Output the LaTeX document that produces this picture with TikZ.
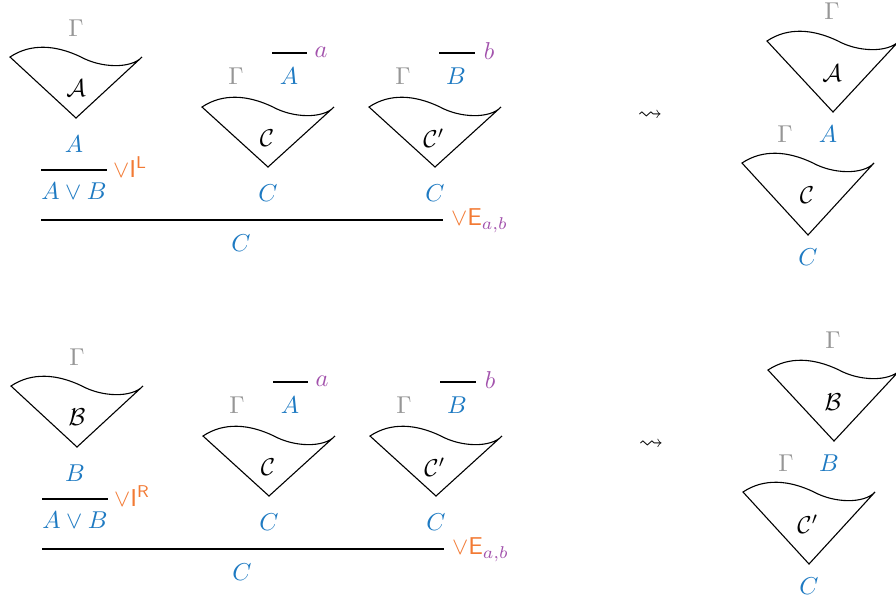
\documentclass[tikz,border=0pt]{standalone}
\usepackage{amsmath,amssymb}
\definecolor{cblue}{RGB}{30,122,194}
\definecolor{corange}{RGB}{242,122,52}
\definecolor{cpurple}{RGB}{162,82,172}
\definecolor{cgray}{RGB}{150,150,150}
\tikzset{
  lbl/.style={inner sep=0pt, outer sep=0pt},
  gam/.style={lbl, text=cgray},
  frm/.style={lbl, text=cblue},
  rul/.style={lbl, text=corange, anchor=west},
  hyp/.style={lbl, text=cpurple},
  ruleline/.style={line width=0.5pt},
  pics/deriv/.style={code={
    \draw[line width=0.45pt, line join=miter]
      (-66,0) .. controls (-45,-14) and (-20,-12) .. (5,0)
      .. controls (25,11) and (55,12) .. (66,0) -- (0,#1) -- cycle;
  }}
}
\newcommand\halfblock[5]{%
  % left derivation of the premise
  \node[gam] (#5g1) at (76,28) {$\Gamma$};
  \pic at (76,57) {deriv=61};
  \node[lbl] (#5d1) at (76,88) {$#1$};
  \node[frm] (#5p1) at (74,144) {$#2$};
  \coordinate (#5f1l) at (41,170);
  \coordinate (#5f1r) at (107,170);
  \draw[ruleline] (#5f1l) -- (#5f1r);
  \node[rul] (#5r1) at (113,167) {$\vee\mathsf{I}^{\mathsf{#3}}$};
  \node[frm] (#5c1) at (74,191) {$A\vee B$};
  % first case
  \node[gam] (#5g2) at (236,76) {$\Gamma$};
  \coordinate (#5f2l) at (272,53);
  \coordinate (#5f2r) at (307,53);
  \draw[ruleline] (#5f2l) -- (#5f2r);
  \node[hyp] (#5h2) at (321,52) {$a$};
  \node[frm] (#5a2) at (289,76) {$A$};
  \pic at (268,107) {deriv=60};
  \node[lbl] (#5d2) at (267,138) {$\mathcal{C}$};
  \node[frm] (#5c2) at (268,193) {$C$};
  % second case
  \node[gam] (#5g3) at (403,76) {$\Gamma$};
  \coordinate (#5f3l) at (439,53);
  \coordinate (#5f3r) at (475,53);
  \draw[ruleline] (#5f3l) -- (#5f3r);
  \node[hyp] (#5h3) at (489,51) {$b$};
  \node[frm] (#5a3) at (456,76) {$B$};
  \pic at (435,107) {deriv=60};
  \node[lbl] (#5d3) at (434,138) {$\mathcal{C}'$};
  \node[frm] (#5c3) at (435,193) {$C$};
  % elimination
  \coordinate (#5fel) at (41,220);
  \coordinate (#5fer) at (443,220);
  \draw[ruleline] (#5fel) -- (#5fer);
  \node[rul] (#5re) at (451,221) {$\vee\mathsf{E}_{\color{cpurple}a,b}$};
  \node[frm] (#5ce) at (241,243) {$C$};
  % reduction
  \node[lbl] (#5sq) at (650,116) {$\rightsquigarrow$};
  \node[gam] (#5g4) at (832,11) {$\Gamma$};
  \pic at (833,41) {deriv=71};
  \node[lbl] (#5d4) at (832,73) {$#1$};
  \node[gam] (#5g5) at (785,134) {$\Gamma$};
  \node[frm] (#5a5) at (828,134) {$#2$};
  \pic at (808,163) {deriv=72};
  \node[lbl] (#5d5) at (807,195) {$#4$};
  \node[frm] (#5c5) at (808,257) {$C$};
}
\begin{document}
\begin{tikzpicture}[x=0.41pt, y=-0.41pt]
  \clip (0,0) rectangle (896,598);
  \halfblock{\mathcal{A}}{A}{L}{\mathcal{C}}{t}
  \begin{scope}[shift={(1,329)}]
    \halfblock{\mathcal{B}}{B}{R}{\mathcal{C}'}{b}
  \end{scope}
\end{tikzpicture}
\end{document}
